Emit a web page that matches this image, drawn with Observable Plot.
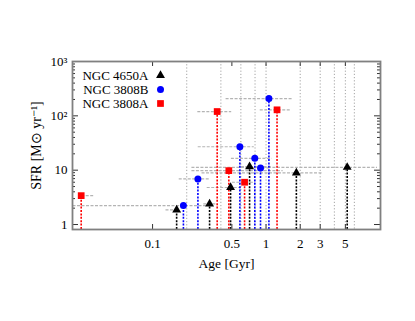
<!DOCTYPE html>
<html><head><meta charset="utf-8">
<script src="https://cdn.jsdelivr.net/npm/d3@7"></script>
<script src="https://cdn.jsdelivr.net/npm/@observablehq/plot@0.6"></script>
<style>
html,body{margin:0;padding:0;background:#fff;}
#chart svg{font-family:"Liberation Serif","DejaVu Serif",serif;}
</style>
</head><body><div id="chart"></div>
<script>
const series = ["NGC 4650A", "NGC 3808B", "NGC 3808A"];
const colors = ["#000000", "#0000ff", "#ff0000"];
const symbols = ["triangle", "circle", "square"];

// NGC 4650A
const age4650A = [0.163, 0.318, 0.487, 0.716, 1.85, 5.19];
const sfr4650A = [1.86, 2.4, 4.8, 11.6, 8.9, 11.3];
const lo4650A  = [0.13, 0.28, 0.30, 0.60, 0.27, 0.22];
const hi4650A  = [0.17, 0.36, 0.60, 1.10, 3.10, 9.5];
// NGC 3808B
const age3808B = [0.187, 0.251, 0.588, 0.796, 0.894, 1.06];
const sfr3808B = [2.23, 6.9, 27, 16.5, 11, 208];
const lo3808B  = [0.0197, 0.17, 0.25, 0.49, 0.70, 0.44];
const hi3808B  = [0.30, 0.32, 0.78, 1.12, 1.10, 1.70];
// NGC 3808A
const age3808A = [0.0235, 0.371, 0.47, 0.647, 1.25];
const sfr3808A = [3.4, 120, 9.8, 6.0, 129];
const lo3808A  = [0.0235, 0.248, 0.22, 0.50, 0.88];
const hi3808A  = [0.030, 0.493, 1.40, 0.80, 1.62];

const xTicks = [0.1, 0.5, 1, 2, 3, 5];
const xTickLabels = ["0.1", "0.5", "1", "2", "3", "5"];
const gridAges = [0.2, 0.4, 0.6, 0.8, 1, 2, 3, 4, 5, 6];
const yTicks = [1, 10, 100, 1000];
const yTickLabels = ["1", "10", "10\u00B2", "10\u00B3"];
const yMinor = [2,3,4,5,6,7,8,9,20,30,40,50,60,70,80,90,200,300,400,500,600,700,800,900];
const xDomain = [0.0197, 10.2];
const yDomain = [0.81, 1000];

const raw = [
  [age4650A, sfr4650A, lo4650A, hi4650A],
  [age3808B, sfr3808B, lo3808B, hi3808B],
  [age3808A, sfr3808A, lo3808A, hi3808A]
];
const rows = raw.flatMap(([a, s, l, h], i) => a.map((v, j) => ({series: series[i], age: v, sfr: s[j], lo: l[j], hi: h[j]})));

const W = 415, H = 321, ML = 72, MR = 35, MT = 61, MB = 92;
const FW = W - ML - MR, FH = H - MT - MB;
const font = "Liberation Serif";
const fs = 13;
const radii = {"NGC 4650A": 3.3, "NGC 3808B": 3.5, "NGC 3808A": 3.8};
const tickColor = "#333";

const xFmt = d => xTickLabels[xTicks.indexOf(d)];
const yFmt = d => yTickLabels[yTicks.indexOf(d)];

const plot = Plot.plot({
  width: W, height: H,
  marginLeft: ML, marginRight: MR, marginTop: MT, marginBottom: MB,
  style: {fontFamily: font, fontSize: fs + "px", background: "#fff", color: "#000"},
  x: {type: "log", domain: xDomain, label: null, axis: null},
  y: {type: "log", domain: yDomain, label: null},
  color: {domain: series, range: colors},
  symbol: {domain: series, range: symbols},
  marks: [
    Plot.ruleX(gridAges, {stroke: "#9a9a9a", strokeWidth: 0.9, strokeDasharray: "1.2,2"}),
    Plot.link(rows, {x1: "lo", x2: "hi", y1: "sfr", y2: "sfr", stroke: "#b4b4b4", strokeWidth: 1.2, strokeDasharray: "3,1.5"}),
    Plot.ruleX(rows, {x: "age", y1: yDomain[0], y2: "sfr", stroke: "series", strokeWidth: 1.6, strokeDasharray: "2,1.4"}),
    ...series.map(s => Plot.dot(rows.filter(d => d.series === s), {x: "age", y: "sfr", symbol: "series", fill: "series", r: radii[s]})),
    // tick labels
    Plot.text(xTicks, {x: d => d, frameAnchor: "bottom", dy: 14, lineAnchor: "middle", textAnchor: "middle", text: xFmt, fontSize: fs}),
    Plot.axisY({anchor: "left", ticks: yTicks, tickSize: 0, tickPadding: 5, tickFormat: yFmt, fontSize: fs}),
    // inward ticks
    Plot.tickX(xTicks, {x: d => d, insetTop: FH - 5, stroke: tickColor}),
    Plot.tickX(xTicks, {x: d => d, insetBottom: FH - 5, stroke: tickColor}),
    Plot.tickY(yTicks, {y: d => d, insetRight: FW - 6, stroke: tickColor}),
    Plot.tickY(yTicks, {y: d => d, insetLeft: FW - 6, stroke: tickColor}),
    Plot.tickY(yMinor, {y: d => d, insetRight: FW - 3, stroke: tickColor}),
    Plot.tickY(yMinor, {y: d => d, insetLeft: FW - 3, stroke: tickColor}),
    Plot.frame({stroke: "#808080", strokeWidth: 1.8}),
    // axis titles
    Plot.text(["Age [Gyr]"], {frameAnchor: "bottom", dy: 34, lineAnchor: "middle", textAnchor: "middle", text: d => d, fontSize: 13.5}),
    Plot.text(["SFR [M\u2299 yr\u207B\u00B9]"], {frameAnchor: "left", dx: -36, rotate: -90, lineAnchor: "middle", textAnchor: "middle", text: d => d, fontSize: 14}),
    // legend
    ...series.map((s, i) => Plot.text([s], {frameAnchor: "top-left", dx: 76, dy: 14 + 14 * i, lineAnchor: "middle", textAnchor: "end", text: d => d, fontSize: fs})),
    ...series.map((s, i) => Plot.dot([s], {frameAnchor: "top-left", dx: 88, dy: 14 + 14 * i, symbol: d => d, fill: d => d, r: radii[s]}))
  ]
});
document.getElementById("chart").appendChild(plot);
</script>
</body></html>
